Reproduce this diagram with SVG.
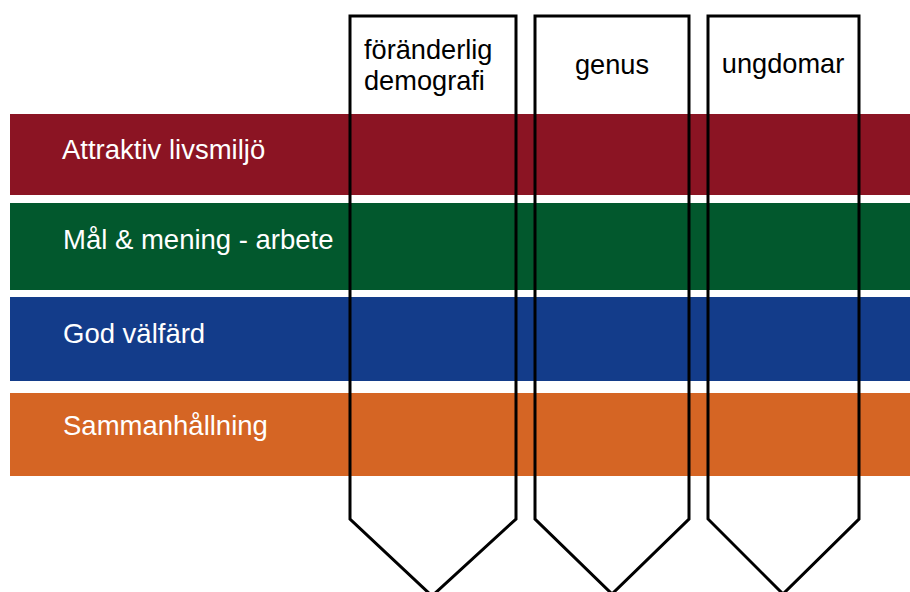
<svg xmlns="http://www.w3.org/2000/svg" width="910" height="592" viewBox="0 0 910 592">
<style>
.lbl{font-family:"Liberation Sans",Arial,sans-serif;font-size:27.5px;fill:#fff}
.col{font-family:"Liberation Sans",Arial,sans-serif;font-size:27.2px;fill:#000}
.arrow{fill:none;stroke:#000;stroke-width:3;stroke-linejoin:miter}
</style>
<rect width="910" height="592" fill="#fff"/>
<g id="band-attraktiv">
<rect x="10" y="114" width="900" height="81" fill="#8B1423"/>
<text class="lbl" x="62" y="159">Attraktiv livsmiljö</text>
</g>
<g id="band-mal">
<rect x="10" y="203" width="900" height="87" fill="#02582D"/>
<text class="lbl" x="63" y="249">Mål &amp; mening - arbete</text>
</g>
<g id="band-valfard">
<rect x="10" y="297" width="900" height="84" fill="#133C8A"/>
<text class="lbl" x="63" y="343">God välfärd</text>
</g>
<g id="band-sammanhallning">
<rect x="10" y="393" width="900" height="83" fill="#D56524"/>
<text class="lbl" x="63" y="435">Sammanhållning</text>
</g>
<g id="col-demografi">
<path class="arrow" d="M350,16 H516 V519 L432,596 L350,519 Z"/>
<text class="col" x="364" y="59">föränderlig</text>
<text class="col" x="364" y="90">demografi</text>
</g>
<g id="col-genus">
<path class="arrow" d="M535,16 H689 V519 L612,594 L535,519 Z"/>
<text class="col" x="612" y="74" text-anchor="middle">genus</text>
</g>
<g id="col-ungdomar">
<path class="arrow" d="M708,16 H859 V519 L783,594 L708,519 Z"/>
<text class="col" x="783" y="73" text-anchor="middle">ungdomar</text>
</g>
</svg>
